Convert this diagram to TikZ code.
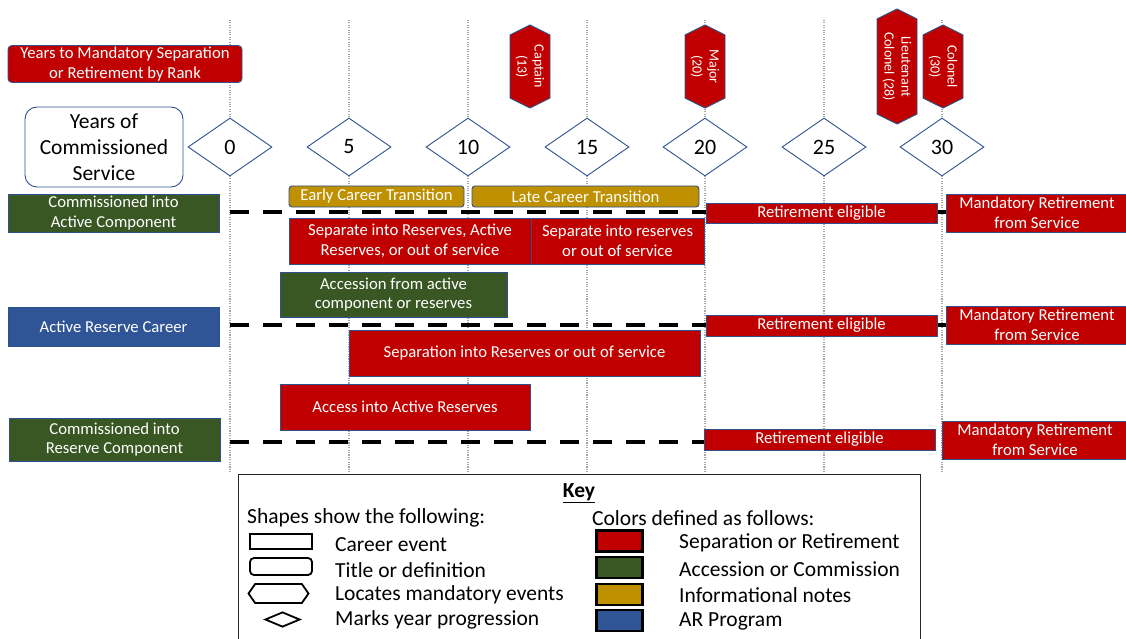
\documentclass[tikz,border=0pt]{standalone}
\usepackage{fontspec}
\setmainfont{Carlito}
\usetikzlibrary{shapes.geometric,shapes.symbols}
\definecolor{cred}{HTML}{C00000}
\definecolor{cgreen}{HTML}{385723}
\definecolor{cgold}{HTML}{BF9000}
\definecolor{cblue}{HTML}{2F5597}
\definecolor{cbord}{HTML}{2F528F}
\definecolor{cgrid}{HTML}{A6A6A6}
\pgfdeclarelayer{bg}
\pgfsetlayers{bg,main}
\begin{document}
\begin{tikzpicture}[x=1pt,y=-1pt,
  box/.style={draw=cbord, line width=0.9pt, text=white, align=center, inner sep=0pt,
    font=\fontsize{16.7}{19.5}\selectfont},
  redbox/.style={box, fill=cred},
  greenbox/.style={box, fill=cgreen},
  bluebox/.style={box, fill=cblue},
  goldbox/.style={box, fill=cgold, rounded corners=3pt},
  sz/.style 2 args={minimum width=#1pt, minimum height=#2pt},
  diam/.style={diamond, draw=cbord, fill=white, line width=0.9pt, minimum width=84pt,
    minimum height=58pt, inner sep=0pt, font=\fontsize{22}{26}\selectfont},
  hexv/.style={signal, signal to=east and west, signal pointer angle=127, rotate=-90,
    fill=cred, draw=cbord, line width=0.9pt, text=white, align=center, inner sep=0pt,
    minimum height=40pt, font=\fontsize{14}{17}\selectfont},
  grid/.style={cgrid, line width=1.1pt, dash pattern=on 1.1pt off 1.3pt},
  dashl/.style={black, line width=4pt, dash pattern=on 19pt off 14pt},
  stub/.style={black, line width=4pt},
  keytext/.style={anchor=west, inner sep=0pt, font=\fontsize{21.5}{25}\selectfont},
  keyicon/.style={draw=black, line width=1.8pt, fill=white, inner sep=0pt},
  swatch/.style={draw=black, line width=2.2pt, inner sep=0pt, minimum width=46pt, minimum height=21pt}
]
\useasboundingbox (0,0) rectangle (1126,639);

% title boxes
\node[redbox, rounded corners=4pt, sz={234}{37}] (ttl) at (125,64)
  {Years to Mandatory Separation\\or Retirement by Rank};
\node[box, fill=white, text=black, rounded corners=12pt, sz={158}{80},
  font=\fontsize{21.5}{26}\selectfont] (ycs) at (104,147) {Years of\\Commissioned\\Service};

% year diamonds
\node[diam] (d0) at (230,147) {0};
\node[diam] (d5) at (349,147) {5};
\node[diam] (d10) at (468,147) {10};
\node[diam] (d15) at (587,147) {15};
\node[diam] (d20) at (705,147) {20};
\node[diam] (d25) at (824,147) {25};
\node[diam] (d30) at (942,147) {30};

% rank hexagons
\node[hexv, minimum width=83pt] (cap) at (530,66.5) {Captain\\(13)};
\node[hexv, minimum width=83pt] (maj) at (705,66.5) {Major\\(20)};
\node[hexv, minimum width=115pt] (ltc) at (897,66.5) {Lieutenant\\Colonel (28)};
\node[hexv, minimum width=83pt] (col) at (943,66.5) {Colonel\\(30)};

% row 1
\node[greenbox, sz={211}{38}] (ca) at (113.5,213) {Commissioned into\\Active Component};
\node[goldbox, sz={175}{21}] (ect) at (376.5,196.5) {Early Career Transition};
\node[goldbox, sz={227}{21}] (lct) at (585.5,196.5) {Late Career Transition};
\node[redbox, sz={242}{46}] (s1) at (410,241) {Separate into Reserves, Active\\Reserves, or out of service};
\node[redbox, sz={173}{46}] (s2) at (617.5,241) {Separate into reserves\\or out of service};
\node[redbox, sz={231}{20}] (re1) at (821.5,213) {Retirement eligible};
\node[redbox, sz={182}{38}] (mr1) at (1037,213) {Mandatory Retirement\\from Service};
\node[greenbox, sz={227}{45}] (afa) at (393.5,294.5) {Accession from active\\component or reserves};

% row 2
\node[bluebox, sz={211}{39}] (arc) at (113.5,326.5) {Active Reserve Career};
\node[redbox, sz={231}{21}] (re2) at (821.5,325.5) {Retirement eligible};
\node[redbox, sz={182}{38}] (mr2) at (1037,325) {Mandatory Retirement\\from Service};
\node[redbox, sz={351}{46}] (sep) at (524.5,353) {Separation into Reserves or out of service};
\node[redbox, sz={250}{46}] (aar) at (405,407) {Access into Active Reserves};

% row 3
\node[greenbox, sz={211}{43}] (cr) at (114.5,439.5) {Commissioned into\\Reserve Component};
\node[redbox, sz={231}{21}] (re3) at (819.5,439.5) {Retirement eligible};
\node[redbox, sz={186}{38}] (mr3) at (1035,440) {Mandatory Retirement\\from Service};

% timelines
\coordinate (a1) at (230,212);
\coordinate (a2) at (230,325);
\coordinate (a3) at (230,442);
\begin{pgfonlayer}{bg}
  \foreach \x in {230,349,468,587,705,824,942}
    \draw[grid] (\x,20) -- (\x,473);
  \draw[dashl] (a1) -- (re1.west |- a1);
  \draw[stub] (re1.east |- a1) -- (mr1.west |- a1);
  \draw[dashl] (a2) -- (re2.west |- a2);
  \draw[stub] (re2.east |- a2) -- (mr2.west |- a2);
  \draw[dashl] (a3) -- (re3.west |- a3);
\end{pgfonlayer}

% key
\node[draw=black!85, line width=1pt, fill=white, anchor=north west, minimum width=682pt,
  minimum height=180pt, inner sep=0pt] (key) at (238,474) {};
\node[inner sep=0pt, font=\bfseries\fontsize{21.5}{25}\selectfont] (keyt) at (579,493) {\underline{Key}};
\node[keytext] (kh1) at (247,518) {Shapes show the following:};
\node[keytext] (kh2) at (592,518) {Colors defined as follows:};

\node[keyicon, sz={62}{15}] (ki1) at (281,541.5) {};
\node[keyicon, sz={62}{17}, rounded corners=4pt] (ki2) at (281,566.5) {};
\node[keyicon, signal, signal to=east and west, signal pointer angle=110, sz={60}{19}] (ki3) at (278.5,593.5) {};
\node[keyicon, diamond, sz={35}{15}] (ki4) at (282.5,619.5) {};
\node[keytext] (kl1) at (335,545) {Career event};
\node[keytext] (kl2) at (335,570) {Title or definition};
\node[keytext] (kl3) at (335,595) {Locates mandatory events};
\node[keytext] (kl4) at (335,620) {Marks year progression};

\node[swatch, fill=cred] (kc1) at (619.5,541) {};
\node[swatch, fill=cgreen] (kc2) at (619.5,567.5) {};
\node[swatch, fill=cgold] (kc3) at (619.5,594.5) {};
\node[swatch, fill=cblue] (kc4) at (619.5,620.5) {};
\node[keytext] (kd1) at (679,543) {Separation or Retirement};
\node[keytext] (kd2) at (679,569) {Accession or Commission};
\node[keytext] (kd3) at (679,595) {Informational notes};
\node[keytext] (kd4) at (679,621) {AR Program};
\end{tikzpicture}
\end{document}
